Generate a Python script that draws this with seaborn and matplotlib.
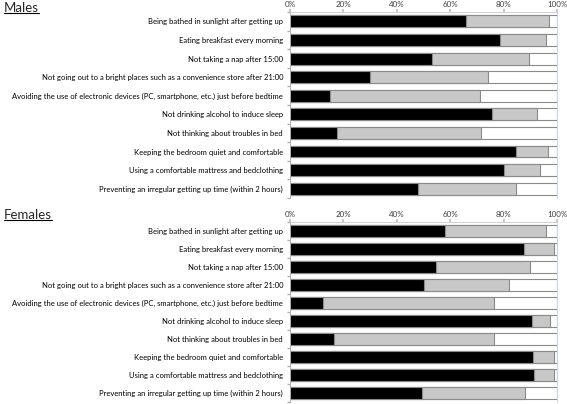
import numpy as np
import pandas as pd
import matplotlib
matplotlib.use("Agg")
import matplotlib.pyplot as plt
import seaborn as sns
from matplotlib.lines import Line2D
from matplotlib.ticker import PercentFormatter

# Dados (% de respostas)
itens = [
    "Being bathed in sunlight after getting up",
    "Eating breakfast every morning",
    "Not taking a nap after 15:00",
    "Not going out to a bright places such as a convenience store after 21:00",
    "Avoiding the use of electronic devices (PC, smartphone, etc.) just before bedtime",
    "Not drinking alcohol to induce sleep",
    "Not thinking about troubles in bed",
    "Keeping the bedroom quiet and comfortable",
    "Using a comfortable mattress and bedclothing",
    "Preventing an irregular getting up time (within 2 hours)",
]
homens_preto = [66, 78.5, 53, 30, 15, 75.5, 17.5, 84.5, 80, 48]
homens_cinza = [31, 17.5, 36.5, 44, 56, 17, 54, 12, 13.5, 36.5]
mulheres_preto = [58, 87.5, 54.5, 50, 12.5, 90.5, 16.5, 91, 91.5, 49.5]
mulheres_cinza = [38, 11.5, 35.5, 32, 64, 7, 60, 8, 7.5, 38.5]

sns.set_theme(style="white")
plt.rcParams["font.family"] = ["Lato", "DejaVu Sans"]

fig = plt.figure(figsize=(5.67, 4.04), dpi=100)
ax_m = fig.add_axes([0.5115, 0.510, 0.471, 0.460])
ax_f = fig.add_axes([0.5115, 0.005, 0.471, 0.446])

borda = "#8a8a8a"


def painel(ax, preto, cinza):
    df = pd.DataFrame({
        "item": itens,
        "preto": np.array(preto) / 100,
        "acum": (np.array(preto) + np.array(cinza)) / 100,
        "total": 1.0,
    })
    sns.barplot(data=df, x="total", y="item", color="white", edgecolor=borda,
                linewidth=0.8, width=0.64, ax=ax, saturation=1)
    sns.barplot(data=df, x="acum", y="item", color="#c8c8c8", edgecolor=borda,
                linewidth=0.8, width=0.64, ax=ax, saturation=1)
    sns.barplot(data=df, x="preto", y="item", color="black", edgecolor=borda,
                linewidth=0.8, width=0.64, ax=ax, saturation=1)
    ax.set_xlim(0, 1.0)
    ax.set_ylim(9.5, -0.5)
    ax.set_xlabel("")
    ax.set_ylabel("")
    ax.xaxis.tick_top()
    ax.set_xticks(np.arange(0, 1.01, 0.2))
    ax.xaxis.set_major_formatter(PercentFormatter(1.0, decimals=0))
    ax.tick_params(axis="x", labelsize=5.8, colors="#404040", length=2,
                   pad=1, top=True, bottom=False, color="#c0c0c0")
    ax.tick_params(axis="y", labelsize=5.5, colors="black", length=0, pad=5)
    ax.set_yticks(np.arange(-0.5, 10, 1), minor=True)
    ax.tick_params(axis="y", which="minor", length=2.5, color="#b0b0b0", left=True)
    ax.spines["bottom"].set_visible(False)
    ax.spines["left"].set_color("#b0b0b0")
    ax.spines["top"].set_color("#d0d0d0")
    ax.spines["right"].set_color("#c8d4e6")
    for s in ax.spines.values():
        s.set_linewidth(0.7)


painel(ax_m, homens_preto, homens_cinza)
painel(ax_f, mulheres_preto, mulheres_cinza)

# Titulos sublinhados
fig.canvas.draw()
renderer = fig.canvas.get_renderer()
for txt, y in [("Males", 0.980), ("Females", 0.468)]:
    t = fig.text(0.007, y, txt, fontsize=9.5, ha="left", va="center")
    bb = t.get_window_extent(renderer).transformed(fig.transFigure.inverted())
    fig.add_artist(Line2D([bb.x0, bb.x1], [bb.y0 + 0.002, bb.y0 + 0.002],
                          transform=fig.transFigure, color="black", lw=0.8))

fig.savefig("out.png", dpi=100)
